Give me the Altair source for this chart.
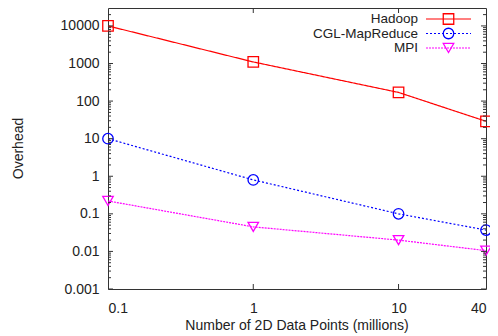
import altair as alt
import pandas as pd

# ---- data ----
x_points = [0.1, 1, 10, 40]
series_names = ["Hadoop", "CGL-MapReduce", "MPI"]
hadoop = [10000, 1100, 170, 29]
cgl = [10, 0.8, 0.1, 0.037]
mpi = [0.22, 0.045, 0.02, 0.0105]
colors = ["#ff0000", "#0000ff", "#ff00ff"]
shapes = ["square", "circle", "triangle-down"]
dashes = [[1, 0], [2, 2], [2, 1]]

x_ticks = [0.1, 1, 10, 40]
y_major = [0.001, 0.01, 0.1, 1, 10, 100, 1000, 10000]
y_domain = [0.001, 30000]
x_domain = [0.1, 40]

y_minor = [m * k for m in y_major for k in range(2, 10) if m * k < y_domain[1]]

W, H = 378, 281
FONT = "Liberation Sans"
FS = 14
TXT = "#222222"

rows = []
for name, vals in zip(series_names, [hadoop, cgl, mpi]):
    for xv, yv in zip(x_points, vals):
        rows.append({"series": name, "n": xv, "v": yv})
df = pd.DataFrame(rows)

xs = alt.Scale(type="log", domain=x_domain, nice=False)
ys = alt.Scale(type="log", domain=y_domain, nice=False)
cs = alt.Scale(domain=series_names, range=colors)
ss = alt.Scale(domain=series_names, range=shapes)
ds = alt.Scale(domain=series_names, range=dashes)

base = alt.Chart(df)

lines = base.mark_line(strokeWidth=1.2).encode(
    x=alt.X("n:Q", scale=xs, title=None,
            axis=alt.Axis(values=x_ticks, format="~g", ticks=False, tickSize=0,
                          domain=False, grid=False, labelPadding=12,
                          labelFont=FONT, labelFontSize=FS, labelColor=TXT)),
    y=alt.Y("v:Q", scale=ys, title=None,
            axis=alt.Axis(values=y_major, format="~g", ticks=False, tickSize=0,
                          domain=False, grid=False, labelPadding=9,
                          labelFont=FONT, labelFontSize=FS, labelColor=TXT)),
    color=alt.Color("series:N", scale=cs, legend=None),
    strokeDash=alt.StrokeDash("series:N", scale=ds, legend=None),
    detail="series:N",
)

points = base.mark_point(filled=False, size=110, strokeWidth=1.3, opacity=1).encode(
    x=alt.X("n:Q", scale=xs),
    y=alt.Y("v:Q", scale=ys),
    color=alt.Color("series:N", scale=cs, legend=None),
    shape=alt.Shape("series:N", scale=ss, legend=None),
)

# inward ticks
ymaj_df = pd.DataFrame({"t": y_major})
ymin_df = pd.DataFrame({"t": y_minor})
xt_df = pd.DataFrame({"t": [v for v in x_ticks if x_domain[0] < v < x_domain[1]]})

tick_layers = []
for d, ln in [(ymaj_df, 5), (ymin_df, 3)]:
    tick_layers.append(alt.Chart(d).mark_rule(color="#333", strokeWidth=1).encode(
        y=alt.Y("t:Q", scale=ys), x=alt.value(0), x2=alt.value(ln)))
    tick_layers.append(alt.Chart(d).mark_rule(color="#333", strokeWidth=1).encode(
        y=alt.Y("t:Q", scale=ys), x=alt.value(W - ln), x2=alt.value(W)))
tick_layers.append(alt.Chart(xt_df).mark_rule(color="#333", strokeWidth=1).encode(
    x=alt.X("t:Q", scale=xs), y=alt.value(H - 5), y2=alt.value(H)))
tick_layers.append(alt.Chart(xt_df).mark_rule(color="#333", strokeWidth=1).encode(
    x=alt.X("t:Q", scale=xs), y=alt.value(0), y2=alt.value(5)))

# legend (top right, inside)
leg_df = pd.DataFrame({"series": series_names})
leg_layers = []
for i, name in enumerate(series_names):
    ly = 11 + 14.5 * i
    sub = alt.Chart(leg_df).transform_filter(alt.datum.series == name)
    leg_layers.append(sub.mark_text(align="right", baseline="middle", font=FONT,
                                    fontSize=13.5, color=TXT).encode(
        x=alt.value(W - 68), y=alt.value(ly), text="series:N"))
    leg_layers.append(sub.mark_rule(strokeWidth=1.2).encode(
        x=alt.value(W - 60), x2=alt.value(W - 15), y=alt.value(ly),
        color=alt.Color("series:N", scale=cs, legend=None),
        strokeDash=alt.StrokeDash("series:N", scale=ds, legend=None)))
    leg_layers.append(sub.mark_point(filled=False, size=110, strokeWidth=1.3, opacity=1).encode(
        x=alt.value(W - 37.5), y=alt.value(ly),
        color=alt.Color("series:N", scale=cs, legend=None),
        shape=alt.Shape("series:N", scale=ss, legend=None)))

# axis titles
title_df = pd.DataFrame({"xt": ["Number of 2D Data Points (millions)"], "yt": ["Overhead"]})
xtitle = alt.Chart(title_df).mark_text(align="center", baseline="middle", font=FONT,
                                       fontSize=FS, color=TXT).encode(
    x=alt.value(W / 2), y=alt.value(318), text="xt:N")
ytitle = alt.Chart(title_df).mark_text(align="center", baseline="middle", font=FONT,
                                       fontSize=FS, color=TXT, angle=270).encode(
    x=alt.value(-89), y=alt.value(H / 2), text="yt:N")

chart = alt.layer(lines, points, *tick_layers, *leg_layers, xtitle, ytitle).properties(
    width=W, height=H,
    autosize=alt.AutoSizeParams(type="none"),
    padding={"left": 100, "top": 0, "right": 4, "bottom": 46},
    background="white",
).configure_view(stroke="#333", strokeWidth=1)

chart.save("out.html", embed_options={"renderer": "svg", "actions": False})
